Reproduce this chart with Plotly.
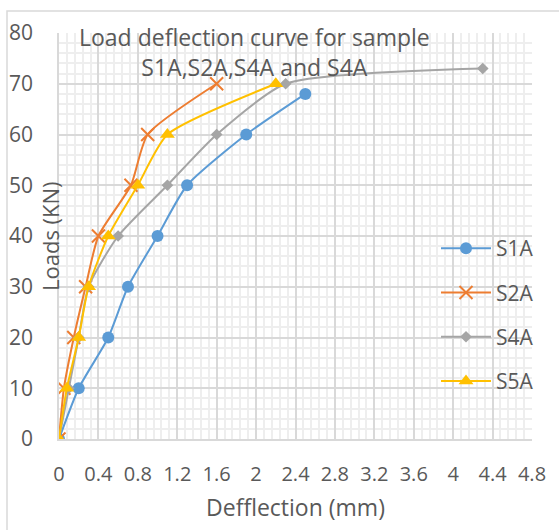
import plotly.graph_objects as go

s1a_x = [0, 0.2, 0.5, 0.7, 1.0, 1.3, 1.9, 2.5]
s1a_y = [0, 10, 20, 30, 40, 50, 60, 68]
s2a_x = [0, 0.05, 0.15, 0.27, 0.4, 0.73, 0.9, 1.6]
s2a_y = [0, 10, 20, 30, 40, 50, 60, 70]
s4a_x = [0, 0.1, 0.2, 0.3, 0.6, 1.1, 1.6, 2.3, 4.3]
s4a_y = [0, 10, 20, 30, 40, 50, 60, 70, 73]
s5a_x = [0, 0.08, 0.2, 0.3, 0.5, 0.8, 1.1, 2.2]
s5a_y = [0, 10, 20, 30, 40, 50, 60, 70]

x_ticks = [0, 0.4, 0.8, 1.2, 1.6, 2, 2.4, 2.8, 3.2, 3.6, 4, 4.4, 4.8]
x_tick_labels = ["0", "0.4", "0.8", "1.2", "1.6", "2", "2.4", "2.8", "3.2", "3.6", "4", "4.4", "4.8"]

series = [
    ("S1A", s1a_x, s1a_y, "#5B9BD5", "circle", 12),
    ("S2A", s2a_x, s2a_y, "#ED7D31", "x-thin", 13),
    ("S4A", s4a_x, s4a_y, "#A5A5A5", "diamond", 9),
    ("S5A", s5a_x, s5a_y, "#FFC000", "triangle-up", 13),
]

FONT = "Open Sans"
TXT = "#595959"

fig = go.Figure()
for name, xs, ys, col, sym, sz in series:
    fig.add_trace(go.Scatter(
        x=xs, y=ys, name=name, mode="lines+markers",
        line=dict(color=col, width=2, shape="spline", smoothing=0.6),
        marker=dict(color=col, symbol=sym, size=sz,
                    line=dict(color=col, width=2 if sym == "x-thin" else 0)),
        legendgroup=name,
    ))

fig.update_layout(
    width=559, height=530,
    margin=dict(l=59, r=27, t=33, b=91),
    paper_bgcolor="white", plot_bgcolor="white",
    font=dict(family=FONT, color=TXT, size=21),
    xaxis=dict(range=[0, 4.8], tickvals=x_ticks, ticktext=x_tick_labels,
               automargin=False,
               showgrid=True, gridcolor="#d9d9d9", gridwidth=1.5,
               minor=dict(dtick=0.08, showgrid=True, gridcolor="#eeeeee", gridwidth=2),
               zeroline=False, showline=True, linecolor="#d9d9d9", linewidth=1.5,
               ticks="", ticklabelstandoff=16, tickfont=dict(size=20, color=TXT),
               title=dict(text="Defflection (mm)", font=dict(size=23, color=TXT), standoff=14)),
    yaxis=dict(range=[0, 80], dtick=10, automargin=False,
               showgrid=True, gridcolor="#d9d9d9", gridwidth=1.5,
               minor=dict(dtick=2, showgrid=True, gridcolor="#eeeeee", gridwidth=2),
               zeroline=False, showline=True, linecolor="#d9d9d9", linewidth=1.5,
               ticks="", ticklabelstandoff=20, tickfont=dict(size=21, color=TXT)),
    legend=dict(x=(436 - 59) / 473, xanchor="left", y=(439 - 228) / 406, yanchor="top",
                bgcolor="rgba(0,0,0,0)", font=dict(size=21, color=TXT),
                tracegroupgap=14, itemwidth=50),
    showlegend=True,
)

fig.add_annotation(text="Load deflection curve for sample<br>S1A,S2A,S4A and S4A",
                   xref="paper", yref="paper", x=(254 - 59) / 473, y=(439 - 52) / 406,
                   xanchor="center", yanchor="middle", showarrow=False,
                   font=dict(size=23, color=TXT, family=FONT))

fig.add_annotation(text="Loads (KN)", textangle=-90, xref="paper", yref="paper",
                   x=(33 - 59) / 473, y=0.5, showarrow=False,
                   font=dict(size=22, color=TXT, family=FONT))

fig.add_shape(type="rect", xref="paper", yref="paper",
              x0=(7 - 59) / 473, x1=(600 - 59) / 473,
              y0=(439 - 600) / 406, y1=(439 - 11) / 406,
              line=dict(color="#d9d9d9", width=1.5), layer="below")

fig.write_html("out.html")
